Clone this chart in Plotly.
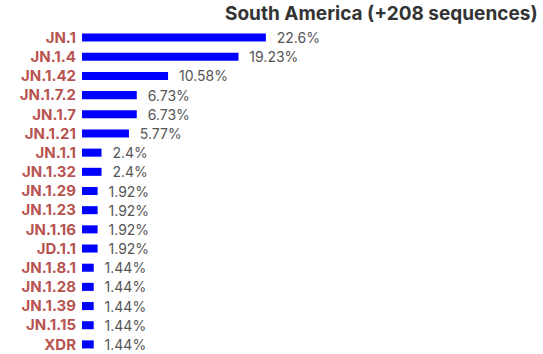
import plotly.graph_objects as go

# Lineage share of sequences in South America
lineages = ["JN.1", "JN.1.4", "JN.1.42", "JN.1.7.2", "JN.1.7", "JN.1.21", "JN.1.1",
            "JN.1.32", "JN.1.29", "JN.1.23", "JN.1.16", "JD.1.1", "JN.1.8.1",
            "JN.1.28", "JN.1.39", "JN.1.15", "XDR"]
shares = [22.6, 19.23, 10.58, 6.73, 6.73, 5.77, 2.4, 2.4, 1.92, 1.92, 1.92, 1.92,
          1.44, 1.44, 1.44, 1.44, 1.44]
labels = [f"  {v:g}%" for v in shares]

fig = go.Figure(go.Bar(
    x=shares, y=lineages, orientation="h",
    marker=dict(color="#0000ff", line=dict(width=0)),
    width=0.42,
    text=labels, textposition="outside", cliponaxis=False,
    constraintext="none",
    textfont=dict(family="Inter", size=14, color="#555555"),
    hoverinfo="skip",
))

fig.update_layout(
    width=543, height=354,
    margin=dict(l=82, r=20, t=28, b=0),
    paper_bgcolor="white", plot_bgcolor="white",
    showlegend=False,
    title=dict(text="<b>South America (+208 sequences)</b>",
               x=0.99, xanchor="right", xref="container", y=0.982, yanchor="top",
               font=dict(family="Inter", size=19, color="#333333")),
    xaxis=dict(range=[0, 54.2], visible=False, showgrid=False, zeroline=False),
    yaxis=dict(autorange="reversed", showgrid=False, zeroline=False,
               showline=False, ticks="", ticklabelstandoff=5,
               tickfont=dict(family="Inter", size=15, color="#b85450", weight="bold")),
)

fig.write_html("out.html")
